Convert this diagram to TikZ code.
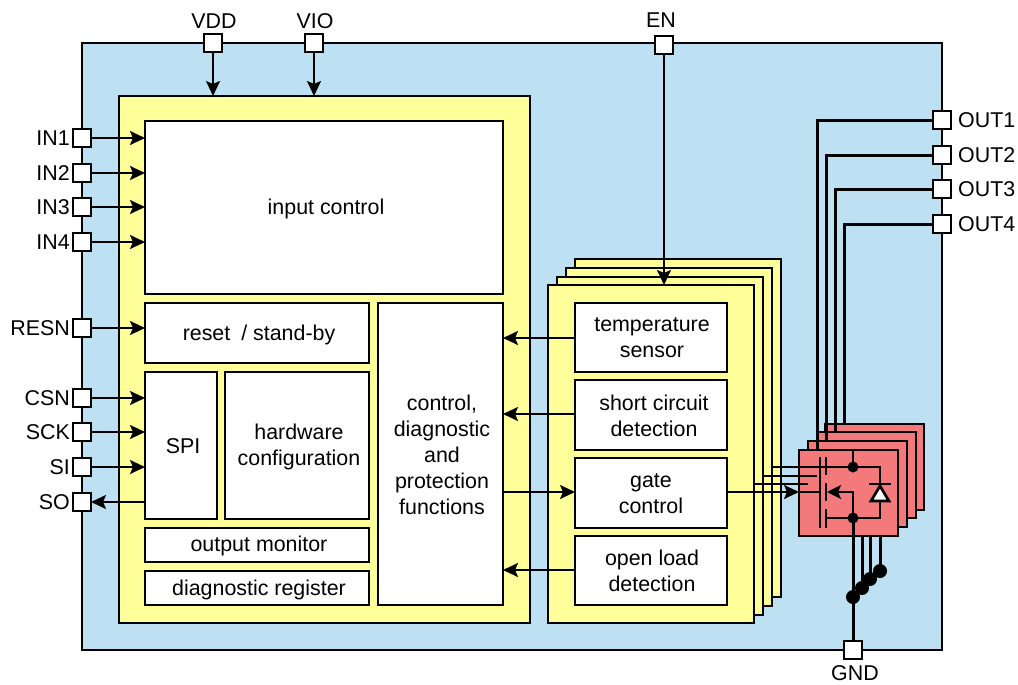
\documentclass[tikz,border=0pt]{standalone}
\usepackage{fontspec}
\setmainfont{Liberation Sans}
\usetikzlibrary{arrows.meta,calc}
\definecolor{chipblue}{HTML}{BDE0F2}
\definecolor{coreyellow}{HTML}{FFFF99}
\definecolor{fetred}{HTML}{F4797B}
\tikzset{
  lbl/.style={font=\fontsize{21.4}{26}\selectfont,text=black,inner sep=0pt,align=center},
  panel/.style={draw=black,line width=2.5pt,outer sep=0pt,inner sep=0pt,align=center,anchor=north west},
  block/.style={panel,fill=white},
  core/.style={panel,fill=coreyellow},
  fet/.style={panel,fill=fetred},
  pin/.style={draw=black,fill=white,line width=2.6pt,minimum size=18pt,inner sep=0pt,outer sep=0pt},
  conn/.style={line width=2.1pt,-{Stealth[length=15pt,width=14pt,inset=3pt]}},
  wire/.style={line width=2.1pt},
  outwire/.style={line width=3pt},
  fetline/.style={line width=2.7pt},
  dot/.style={circle,fill=black,inner sep=0pt,outer sep=0pt},
}
\begin{document}
\begin{tikzpicture}[x=1pt,y=-1pt]
\useasboundingbox (0,0) rectangle (1018,685);
\fill[white] (0,0) rectangle (1018,685);
% chip
\node[panel,fill=chipblue,line width=2pt,minimum width=860pt,minimum height=607pt] (chip) at (82,43) {};
\node[core,minimum width=411pt,minimum height=527pt] (logic) at (119,96) {};
% stacked driver channels
\node[core,minimum width=206pt,minimum height=338pt] (ch4) at (575,259) {};
\node[core,minimum width=206pt,minimum height=338pt] (ch3) at (566,268) {};
\node[core,minimum width=206pt,minimum height=338pt] (ch2) at (557,277) {};
\node[core,minimum width=206pt,minimum height=338pt] (ch1) at (548,285) {};
% logic blocks
\node[block,minimum width=358pt,minimum height=173pt] (input) at (145,121) {};
\node[lbl] at (326,209) {input control};
\node[block,minimum width=224pt,minimum height=60pt] (reset) at (145,303) {};
\node[lbl] at (259,335) {reset\hspace{5pt} / stand-by};
\node[block,minimum width=72pt,minimum height=147pt] (spi) at (145,372) {};
\node[lbl] at (183,446) {SPI};
\node[block,minimum width=144pt,minimum height=147pt] (hw) at (225,372) {};
\node[lbl] at (299,447) {hardware\\configuration};
\node[block,minimum width=224pt,minimum height=34pt] (mon) at (145,528) {};
\node[lbl] at (259,546) {output monitor};
\node[block,minimum width=224pt,minimum height=34pt] (diag) at (145,571) {};
\node[lbl] at (259,590) {diagnostic register};
\node[block,minimum width=125pt,minimum height=302pt] (ctrl) at (378,303) {};
\node[lbl] at (442,455) {control,\\diagnostic\\and\\protection\\functions};
% channel blocks
\node[block,minimum width=152pt,minimum height=69pt] (temp) at (575,303) {};
\node[lbl] at (652,338) {temperature\\sensor};
\node[block,minimum width=152pt,minimum height=70pt] (short) at (575,380) {};
\node[lbl] at (654,416) {short circuit\\detection};
\node[block,minimum width=152pt,minimum height=70pt] (gate) at (575,458) {};
\node[lbl] at (651,494) {gate\\control};
\node[block,minimum width=152pt,minimum height=69pt] (open) at (575,536) {};
\node[lbl] at (652,571) {open load\\detection};
% output wires behind red boxes
\coordinate (o1) at (942,120);
\coordinate (o2) at (942,155);
\coordinate (o3) at (942,189);
\coordinate (o4) at (942,224);
% MOSFET stack
\node[fet,minimum width=99pt,minimum height=86pt] (f4) at (825,424) {};
\node[fet,minimum width=99pt,minimum height=86pt] (f3) at (817,432) {};
\node[fet,minimum width=99pt,minimum height=86pt] (f2) at (808,441) {};
\node[fet,minimum width=99pt,minimum height=86pt] (f1) at (799,450) {};
\draw[outwire] (o1) -| (817,450);
\draw[outwire] (o2) -| (826,441);
\draw[outwire] (o3) -| (835,432);
\draw[outwire] (o4) -| (844,424);
% pins
\foreach \n/\t/\y in {in1/IN1/138,in2/IN2/173,in3/IN3/207,in4/IN4/242,resn/RESN/328,csn/CSN/398,sck/SCK/432,si/SI/467,so/SO/502}{
  \node[pin] (\n) at (82,\y) {};
  \node[lbl,anchor=east] at (70,\y) {\t};
}
\foreach \n/\t/\y in {out1/OUT1/120,out2/OUT2/155,out3/OUT3/189,out4/OUT4/224}{
  \node[pin] (\n) at (942,\y) {};
  \node[lbl,anchor=west] at (958,\y) {\t};
}
\node[pin] (vdd) at (213,43) {};
\node[lbl] at (214,21) {VDD};
\node[pin] (vio) at (314,43) {};
\node[lbl] at (315,21) {VIO};
\node[pin] (en) at (664,45) {};
\node[lbl] at (661,20) {EN};
\node[pin] (gnd) at (853,650) {};
\node[lbl] at (855,673.5) {GND};
% inputs
\draw[conn] (in1) -- (in1 -| input.west);
\draw[conn] (in2) -- (in2 -| input.west);
\draw[conn] (in3) -- (in3 -| input.west);
\draw[conn] (in4) -- (in4 -| input.west);
\draw[conn] (resn) -- (resn -| reset.west);
\draw[conn] (csn) -- (csn -| spi.west);
\draw[conn] (sck) -- (sck -| spi.west);
\draw[conn] (si) -- (si -| spi.west);
\draw[conn] (so -| spi.west) -- (so);
\draw[conn] (vdd) -- (vdd |- logic.north);
\draw[conn] (vio) -- (vio |- logic.north);
\draw[conn] (en) -- (en |- ch1.north);
% channel connections
\coordinate (tempw) at (575,338);
\coordinate (shortw) at (575,414);
\coordinate (gatew) at (575,492);
\coordinate (openw) at (575,570);
\draw[conn] (tempw) -- (tempw -| ctrl.east);
\draw[conn] (shortw) -- (shortw -| ctrl.east);
\draw[conn] (gatew -| ctrl.east) -- (gatew);
\draw[conn] (openw) -- (openw -| ctrl.east);
% gate drive
\coordinate (gatee) at (727,492);
\draw[wire] (772,467) -- (825,467);
\draw[wire] (763,476) -- (817,476);
\draw[wire] (754,484) -- (808,484);
\draw[conn] (gatee) -- (gatee -| f1.west);
% MOSFET symbol
\coordinate (dn) at (853,467);
\coordinate (sn) at (853,518);
\draw[fetline] (799,492) -- (820,492);
\draw[fetline] (820,457) -- (820,528);
\draw[fetline] (826,457) -- (826,475);
\draw[fetline] (826,483) -- (826,501);
\draw[fetline] (826,509) -- (826,528);
\draw[fetline] (826,467) -- (880,467) -- (880,518) -- (826,518);
\draw[fetline,{Stealth[length=14pt,width=14pt,inset=3pt]}-] (827,492) -- (853,492) -- (sn);
\draw[fetline] (853,450) -- (dn);
\node[dot,minimum size=11pt] at (dn) {};
\node[dot,minimum size=11pt] at (sn) {};
\draw[fetline] (869,484) -- (891,484);
\draw[line width=2.7pt,fill=white,line join=miter] (880,486) -- (871,501) -- (889,501) -- cycle;
% ground wires
\draw[outwire] (sn) -- (gnd);
\draw[outwire] (862,536) -- (862,588);
\draw[outwire] (870,536) -- (870,579);
\draw[outwire] (880,536) -- (880,571);
\foreach \x/\y in {853/597,862/588,870/579,880/571}{
  \node[dot,minimum size=14pt] at (\x,\y) {};
}
\end{tikzpicture}
\end{document}
